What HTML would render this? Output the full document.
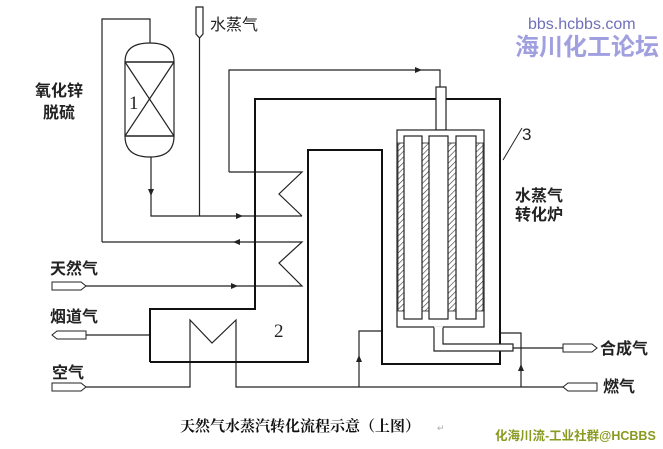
<!DOCTYPE html>
<html><head><meta charset="utf-8"><style>
body{margin:0;background:#fff;}
svg{display:block;}
text{font-family:"Liberation Sans","Noto Sans CJK SC",sans-serif;}
</style></head><body>
<svg width="663" height="449" viewBox="0 0 663 449" xmlns="http://www.w3.org/2000/svg">
<defs>
<pattern id="h" width="4" height="4" patternUnits="userSpaceOnUse" patternTransform="rotate(45)">
<rect width="4" height="4" fill="#fff"/><line x1="0" y1="0" x2="0" y2="4" stroke="#333" stroke-width="1.2"/>
</pattern>
</defs>
<g fill="none" stroke="#222" stroke-width="1.2">
<polyline points="102,242 102,19 150,19 150,43"/>
<path d="M125,62 Q125,43 150,43 Q174,43 174,62 L174,136 Q174,157 150,157 Q125,157 125,136 Z"/>
<line x1="125" y1="62" x2="174" y2="62" stroke-width="1.6"/>
<line x1="125" y1="136" x2="174" y2="136" stroke-width="1.6"/>
<line x1="125" y1="62" x2="174" y2="136"/>
<line x1="174" y1="62" x2="125" y2="136"/>
<polyline points="151,157 151,216 302,216"/>
<path d="M196,7 L203,7 L203,34 L199.5,38 L196,34 Z"/>
<line x1="199.5" y1="38" x2="199.5" y2="216"/>
<polyline points="229,172 229,70 440,70 440,87"/>
<polyline points="229,172 302,172 279,194 302,216"/>
<polyline points="102,242 302,242 279,263 302,286 86,286"/>
<line x1="86" y1="335" x2="150" y2="335"/>
<polyline points="86,387 190,387 190,320 212,343 236,320 236,387 563,387"/>
<polyline points="359,387 359,331 382,331"/>
<polyline points="521,387 521,333 500,333"/>
<line x1="513" y1="348" x2="563" y2="348"/>
</g>
<polyline fill="none" stroke="#111" stroke-width="2" points="150,362 150,309 255,309 255,99 500,99 500,364 382,364 382,150 308,150 308,362 150,362"/>
<line x1="503" y1="160" x2="522" y2="128" stroke="#222" stroke-width="1"/>
<g stroke="#222" stroke-width="1.2">
<rect x="436" y="87" width="10" height="43" fill="#fff"/>
<rect x="397" y="130" width="87" height="197" fill="#fff"/>
<rect x="398" y="143" width="6" height="168" fill="url(#h)" stroke-width="0.8"/>
<rect x="422" y="143" width="7" height="168" fill="url(#h)" stroke-width="0.8"/>
<rect x="448" y="143" width="8" height="168" fill="url(#h)" stroke-width="0.8"/>
<rect x="476" y="143" width="7" height="168" fill="url(#h)" stroke-width="0.8"/>
<rect x="404" y="136" width="18" height="183" fill="#fff"/>
<rect x="429" y="136" width="19" height="183" fill="#fff"/>
<rect x="456" y="136" width="20" height="183" fill="#fff"/>
<polyline fill="#fff" points="434,327 434,351 513,351 513,344 443,344 443,327"/>
</g>
<line x1="434" y1="327" x2="443" y2="327" stroke="#fff" stroke-width="1"/>
<g fill="#fff" stroke="#222" stroke-width="1">
<path d="M52,282 L81,282 L86,286 L81,290 L52,290 Z"/>
<path d="M57,331 L86,331 L86,339 L57,339 L52,335 Z"/>
<path d="M52,383 L81,383 L86,387 L81,391 L52,391 Z"/>
<path d="M563,344 L592,344 L597,348 L592,352 L563,352 Z"/>
<path d="M568,383 L597,383 L597,391 L568,391 L563,387 Z"/>
</g>
<g fill="#222">
<path d="M148,189 L154,189 L151,196 Z"/>
<path d="M236,213 L243,216 L236,219 Z"/>
<path d="M415,67 L422,70 L415,73 Z"/>
<path d="M240,239 L233,242 L240,245 Z"/>
<path d="M231,283 L238,286 L231,289 Z"/>
<path d="M356,362 L359,355 L362,362 Z"/>
<path d="M518,371 L521,364 L524,371 Z"/>
</g>
<g fill="#222" font-size="16">
<text x="210" y="30">水蒸气</text>
<text x="35" y="96" font-weight="bold">氧化锌</text>
<text x="43" y="118" font-weight="bold">脱硫</text>
<text x="50" y="274" font-weight="bold">天然气</text>
<text x="50" y="322" font-weight="bold">烟道气</text>
<text x="52" y="378" font-weight="bold">空气</text>
<text x="515" y="201" font-weight="bold">水蒸气</text>
<text x="515" y="220" font-weight="bold">转化炉</text>
<text x="600" y="354" font-weight="bold">合成气</text>
<text x="603" y="392" font-weight="bold">燃气</text>
</g>
<text x="129" y="109" font-size="19" style="font-family:'Liberation Serif',serif" fill="#222">1</text>
<text x="274" y="337" font-size="19" style="font-family:'Liberation Serif',serif" fill="#222">2</text>
<text x="522" y="140" font-size="17" fill="#222">3</text>
<text x="180" y="431" font-size="15" font-weight="bold" style="font-family:'Liberation Serif','Noto Serif CJK SC',serif" fill="#111">天然气水蒸汽转化流程示意（上图）</text>
<text x="437" y="431" font-size="9" fill="#aaa">↵</text>
<text x="528" y="29" font-size="16" fill="#7070b8">bbs.hcbbs.com</text>
<text x="515" y="55" font-size="24" font-weight="bold" fill="#a0a0e0">海川化工论坛</text>
<text x="495" y="440" font-size="12.5" font-weight="bold" fill="#8a9a20">化海川流-工业社群@HCBBS</text>
</svg>
</body></html>
